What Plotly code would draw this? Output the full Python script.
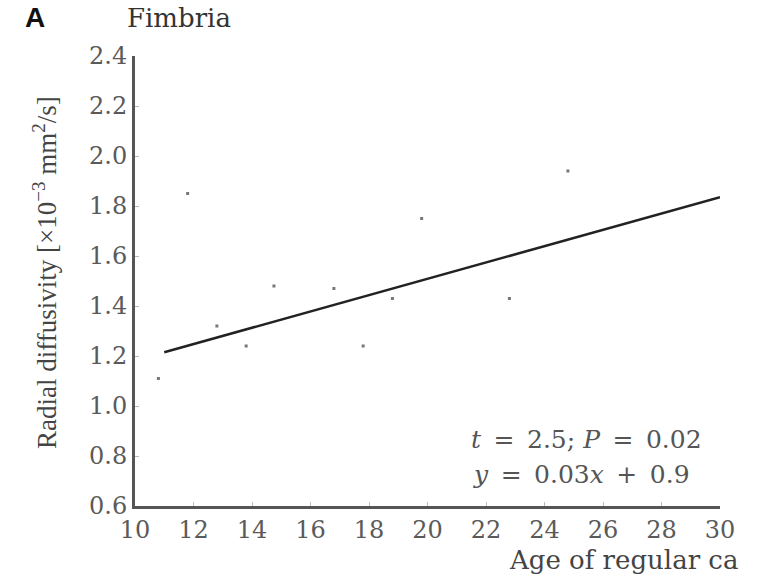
import plotly.graph_objects as go

# Data
age = [10.8, 11.8, 12.8, 13.8, 14.75, 16.8, 17.8, 18.8, 19.8, 22.8, 24.8]
rd = [1.11, 1.85, 1.32, 1.24, 1.48, 1.47, 1.24, 1.43, 1.75, 1.43, 1.94]
fit_x = [11.0, 30.0]
fit_y = [1.215, 1.835]
x_ticks = [10, 12, 14, 16, 18, 20, 22, 24, 26, 28, 30]
y_ticks = [0.6, 0.8, 1.0, 1.2, 1.4, 1.6, 1.8, 2.0, 2.2, 2.4]

SERIF = "DejaVu Serif"
TICK_COLOR = "#5a5a5a"
SP = "\u2002"

fig = go.Figure()
fig.add_trace(go.Scatter(x=age, y=rd, mode="markers",
                         marker=dict(symbol="square", size=3, color="#777777"),
                         showlegend=False))
fig.add_trace(go.Scatter(x=fit_x, y=fit_y, mode="lines",
                         line=dict(color="#222222", width=2.5),
                         showlegend=False))

fig.update_layout(
    width=765, height=576,
    margin=dict(l=135, r=45, t=56, b=70),
    paper_bgcolor="white", plot_bgcolor="white",
    xaxis=dict(range=[10, 30], tickvals=x_ticks, ticktext=[str(v) for v in x_ticks],
               showgrid=False, zeroline=False, showline=True, linewidth=3,
               linecolor="#555555", ticks="inside", ticklen=4, tickcolor="#bbbbbb",
               tickfont=dict(family=SERIF, size=24, color=TICK_COLOR)),
    yaxis=dict(range=[0.6, 2.4], tickvals=y_ticks, ticktext=[f"{v:.1f}" for v in y_ticks],
               showgrid=False, zeroline=False, showline=True, linewidth=3,
               linecolor="#555555", ticks="inside", ticklen=4, tickcolor="#bbbbbb",
               tickfont=dict(family=SERIF, size=24, color=TICK_COLOR)),
)

ann = [
    dict(text="<b>A</b>", x=-0.192, y=1.085, xanchor="left", yanchor="middle",
         font=dict(family="Liberation Sans", size=28, color="#111111")),
    dict(text="Fimbria", x=-0.017, y=1.085, xanchor="left", yanchor="middle",
         font=dict(family=SERIF, size=26, color="#333333")),
    dict(text="Radial diffusivity [×10<sup>−3</sup> mm<sup>2</sup>/s]", x=-0.154, y=0.52,
         xanchor="center", yanchor="middle", textangle=-90,
         font=dict(family="Liberation Serif", size=27, color="#444444")),
    dict(text="Age of regular ca", x=0.636, y=-0.12, xanchor="left", yanchor="middle",
         font=dict(family=SERIF, size=26, color="#444444")),
    dict(text=f"<i>t</i>{SP}={SP}2.5; <i>P</i>{SP}={SP}0.02", x=0.571, y=0.147,
         xanchor="left", yanchor="middle",
         font=dict(family=SERIF, size=25, color="#555555")),
    dict(text=f"<i>y</i>{SP}={SP}0.03<i>x</i>{SP}+{SP}0.9", x=0.575, y=0.069,
         xanchor="left", yanchor="middle",
         font=dict(family=SERIF, size=25, color="#555555")),
]
for a in ann:
    a.update(xref="paper", yref="paper", showarrow=False)
fig.update_layout(annotations=ann)

fig.write_html("out.html")
